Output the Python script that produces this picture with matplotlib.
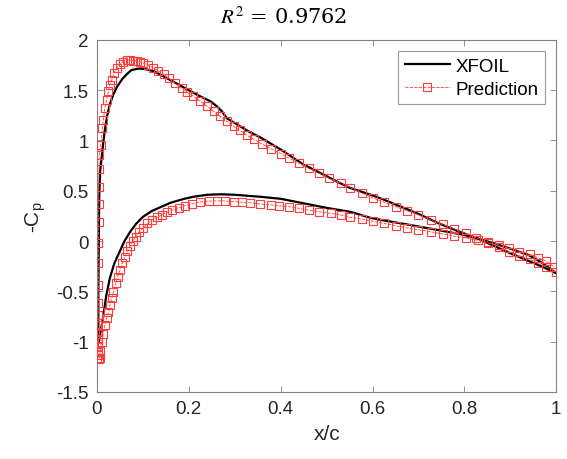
import matplotlib
matplotlib.use("Agg")
import matplotlib.pyplot as plt
import numpy as np

plt.rcParams['font.family'] = ['Liberation Sans', 'DejaVu Sans']
plt.rcParams['mathtext.fontset'] = 'custom'
plt.rcParams['mathtext.rm'] = 'Liberation Sans'
plt.rcParams['mathtext.it'] = 'Liberation Sans:italic'

# XFOIL reference, upper surface (x/c, -Cp)
xfoil_up_x = [0.004, 0.003, 0.003, 0.004, 0.005, 0.007, 0.010, 0.013, 0.017, 0.022, 0.028,
              0.035, 0.043, 0.055, 0.065, 0.075, 0.09, 0.105, 0.123, 0.14, 0.16, 0.188,
              0.22, 0.247, 0.261, 0.272, 0.283, 0.305, 0.33, 0.356, 0.378, 0.40, 0.45,
              0.50, 0.523, 0.55, 0.596, 0.62, 0.668, 0.70, 0.742, 0.785, 0.829, 0.87,
              0.909, 0.967, 1.0]
xfoil_up_cp = [-1.0, -0.9, -0.5, 0.0, 0.45, 0.70, 0.82, 0.95, 1.10, 1.24, 1.36,
               1.45, 1.53, 1.61, 1.66, 1.70, 1.715, 1.71, 1.69, 1.65, 1.60, 1.53,
               1.45, 1.39, 1.34, 1.29, 1.22, 1.16, 1.09, 1.03, 0.97, 0.91, 0.76,
               0.645, 0.59, 0.53, 0.46, 0.42, 0.33, 0.27, 0.18, 0.10, 0.025, -0.06,
               -0.14, -0.25, -0.32]

# XFOIL reference, lower surface
xfoil_lo_x = [0.004, 0.006, 0.010, 0.014, 0.020, 0.028, 0.038, 0.05, 0.06, 0.072, 0.085,
              0.10, 0.12, 0.14, 0.16, 0.19, 0.21, 0.24, 0.27, 0.30, 0.356, 0.40, 0.45,
              0.50, 0.552, 0.596, 0.618, 0.669, 0.742, 0.80, 0.829, 0.87, 0.909, 0.94,
              0.967, 1.0]
xfoil_lo_cp = [-1.0, -0.95, -0.85, -0.74, -0.55, -0.37, -0.22, -0.10, 0.0, 0.09, 0.17,
               0.24, 0.30, 0.34, 0.38, 0.42, 0.44, 0.46, 0.465, 0.46, 0.44, 0.42, 0.375,
               0.33, 0.29, 0.23, 0.21, 0.17, 0.11, 0.06, 0.025, -0.03, -0.09, -0.14,
               -0.21, -0.32]

# model prediction, upper surface
pred_up_x = [0.001, 0.0015, 0.0015, 0.002, 0.002, 0.002, 0.0025, 0.003, 0.003, 0.003,
             0.003, 0.0035, 0.004, 0.004, 0.0045, 0.005, 0.008, 0.012, 0.014, 0.017,
             0.021, 0.025, 0.028, 0.032, 0.037, 0.043, 0.050, 0.057, 0.065, 0.072,
             0.079, 0.087, 0.094, 0.101, 0.112, 0.123, 0.134, 0.145, 0.156, 0.170,
             0.185, 0.196, 0.210, 0.225, 0.24, 0.254, 0.268, 0.283, 0.298, 0.312,
             0.327, 0.342, 0.36, 0.378, 0.40, 0.418, 0.44, 0.461, 0.483, 0.505,
             0.531, 0.552, 0.578, 0.60, 0.625, 0.651, 0.676, 0.70, 0.727, 0.753,
             0.778, 0.803, 0.825, 0.851, 0.876, 0.898, 0.92, 0.942, 0.96, 0.978, 1.0]
pred_up_cp = [-1.17, -1.10, -1.04, -0.97, -0.90, -0.84, -0.74, -0.62, -0.44, -0.22,
              -0.02, 0.19, 0.37, 0.54, 0.72, 0.857, 0.956, 1.12, 1.205, 1.32,
              1.405, 1.49, 1.555, 1.60, 1.67, 1.72, 1.76, 1.785, 1.80, 1.80,
              1.795, 1.79, 1.78, 1.77, 1.75, 1.72, 1.69, 1.66, 1.62, 1.57,
              1.52, 1.48, 1.44, 1.39, 1.34, 1.29, 1.24, 1.19, 1.14, 1.10,
              1.05, 1.01, 0.965, 0.92, 0.87, 0.825, 0.775, 0.725, 0.675, 0.625,
              0.575, 0.53, 0.475, 0.43, 0.385, 0.34, 0.30, 0.26, 0.21, 0.165,
              0.12, 0.076, 0.033, -0.007, -0.057, -0.107, -0.147, -0.18, -0.223, -0.256, -0.306]

# model prediction, lower surface
pred_lo_x = [0.003, 0.004, 0.006, 0.0066, 0.010, 0.014, 0.017, 0.021, 0.025, 0.028,
             0.032, 0.036, 0.041, 0.045, 0.050, 0.055, 0.061, 0.066, 0.072, 0.078,
             0.085, 0.092, 0.101, 0.11, 0.119, 0.13, 0.141, 0.152, 0.163, 0.178,
             0.192, 0.207, 0.225, 0.243, 0.261, 0.279, 0.298, 0.316, 0.334, 0.356,
             0.378, 0.396, 0.418, 0.44, 0.461, 0.483, 0.509, 0.531, 0.552, 0.578,
             0.60, 0.625, 0.651, 0.676, 0.70, 0.727, 0.753, 0.778, 0.803, 0.829,
             0.851, 0.876, 0.898, 0.92, 0.942, 0.96, 0.978, 0.996]
pred_lo_cp = [-1.13, -1.17, -1.16, -1.09, -1.0, -0.92, -0.84, -0.77, -0.705, -0.64,
              -0.57, -0.505, -0.42, -0.355, -0.29, -0.22, -0.157, -0.10, -0.047, 0.0,
              0.043, 0.093, 0.133, 0.175, 0.205, 0.235, 0.26, 0.285, 0.305, 0.33,
              0.352, 0.372, 0.388, 0.396, 0.40, 0.398, 0.393, 0.386, 0.38, 0.368,
              0.36, 0.35, 0.342, 0.325, 0.308, 0.292, 0.275, 0.258, 0.235, 0.218,
              0.198, 0.175, 0.152, 0.13, 0.112, 0.092, 0.07, 0.048, 0.03, 0.009,
              -0.02, -0.04, -0.073, -0.105, -0.133, -0.167, -0.20, -0.26]

r2 = 0.9762

x_ticks = [0, 0.2, 0.4, 0.6, 0.8, 1]
x_tick_labels = ['0', '0.2', '0.4', '0.6', '0.8', '1']
y_ticks = [-1.5, -1, -0.5, 0, 0.5, 1, 1.5, 2]
y_tick_labels = ['-1.5', '-1', '-0.5', '0', '0.5', '1', '1.5', '2']

fig = plt.figure(figsize=(5.67, 4.6), dpi=100)
ax = fig.add_axes([0.171, 0.146, 0.81, 0.765])

red = '#ff3b3b'
ax.plot(xfoil_up_x, xfoil_up_cp, color='black', lw=1.6, label='XFOIL', zorder=2)
ax.plot(xfoil_lo_x, xfoil_lo_cp, color='black', lw=1.6, zorder=2)
ax.plot(pred_up_x, pred_up_cp, color=red, ls='--', lw=0.6, marker='s', ms=5.5,
        mfc='none', mec=red, mew=0.8, label='Prediction', zorder=3)
ax.plot(pred_lo_x, pred_lo_cp, color=red, ls='--', lw=0.6, marker='s', ms=5.5,
        mfc='none', mec=red, mew=0.8, zorder=3)

ax.set_xlim(0, 1)
ax.set_ylim(-1.5, 2)
ax.set_xticks(x_ticks)
ax.set_xticklabels(x_tick_labels)
ax.set_yticks(y_ticks)
ax.set_yticklabels(y_tick_labels)
ax.tick_params(direction='in', top=True, right=True, length=4, width=0.6,
               colors='#808080', labelcolor='#262626', labelsize=13.5, pad=6)
for s in ax.spines.values():
    s.set_color('#808080')
    s.set_linewidth(0.8)

ax.set_xlabel('x/c', fontsize=15, color='#262626', labelpad=5)
ax.set_ylabel('-C$_\\mathrm{p}$', fontsize=15, color='#262626', labelpad=6)

fig.text(0.5, 0.962, r'$R^2$ = 0.9762', ha='center', va='center', fontsize=15,
         family='DejaVu Serif', math_fontfamily='stix')

leg = ax.legend(loc='upper right', fontsize=13.5, frameon=True, fancybox=False,
                edgecolor='#808080', borderpad=0.35, handlelength=2.4,
                handletextpad=0.3, labelspacing=0.3, borderaxespad=0.6)
leg.get_frame().set_linewidth(0.8)

fig.savefig('out.png', dpi=100)
